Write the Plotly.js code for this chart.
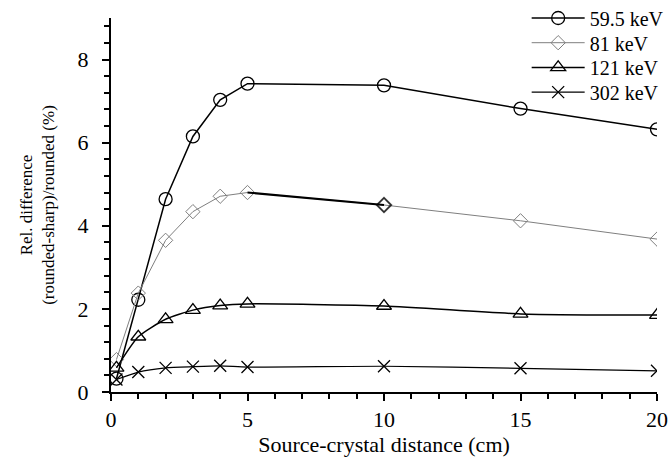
<!DOCTYPE html>
<html>
<head>
<meta charset="utf-8">
<script src="https://cdn.plot.ly/plotly-3.0.1.min.js"></script>
<style>html,body{margin:0;padding:0;background:#fff;}#chart{width:670px;height:469px;}</style>
</head>
<body>
<div id="chart"></div>
<script>
// Data
var distances = [0.2, 1, 2, 3, 4, 5, 10, 15, 20];
var seriesNames = ["59.5 keV", "81 keV", "121 keV", "302 keV"];
var kev59 = [0.32, 2.22, 4.64, 6.15, 7.03, 7.42, 7.38, 6.82, 6.32];
var kev81 = [0.78, 2.38, 3.65, 4.34, 4.71, 4.80, 4.50, 4.12, 3.68];
var kev121 = [0.58, 1.33, 1.75, 1.97, 2.08, 2.12, 2.07, 1.88, 1.85];
var kev302 = [0.30, 0.48, 0.58, 0.61, 0.63, 0.60, 0.62, 0.57, 0.51];
var xTickVals = [0, 5, 10, 15, 20];
var yTickVals = [0, 2, 4, 6, 8];

var serif = "Liberation Serif";

var traces = [
  {x: distances, y: kev59, name: seriesNames[0], mode: "lines+markers",
   line: {color: "#000", width: 1.5},
   marker: {symbol: "circle-open", size: 13, color: "#000", line: {width: 1.3}}},
  {x: distances, y: kev81, name: seriesNames[1], mode: "lines+markers",
   line: {color: "#7f7f7f", width: 1},
   marker: {symbol: "diamond-open", size: 11, color: "#7f7f7f", line: {width: 1}}},
  {x: distances, y: kev121, name: seriesNames[2], mode: "lines+markers",
   line: {color: "#000", width: 1.5, shape: "spline", smoothing: 0.6},
   marker: {symbol: "triangle-up-open", size: 13, color: "#000", line: {width: 1.3}}},
  {x: distances, y: kev302, name: seriesNames[3], mode: "lines+markers",
   line: {color: "#000", width: 1.2, shape: "spline", smoothing: 0.6},
   marker: {symbol: "x-thin-open", size: 12, color: "#000", line: {width: 1.3}}},
  // dark overlay segment of the 81 keV series between 5 and 10 cm (as in the reference)
  {x: distances.slice(5, 7), y: kev81.slice(5, 7), mode: "lines+markers", showlegend: false,
   line: {color: "#000", width: 2},
   marker: {symbol: "diamond-open", size: [0, 11], color: "#000", line: {width: 2}}}
];

var layout = {
  width: 670, height: 469,
  margin: {l: 111, r: 13, t: 18, b: 77, autoexpand: false},
  paper_bgcolor: "#fff", plot_bgcolor: "#fff",
  font: {family: serif, size: 20, color: "#000"},
  showlegend: true,
  legend: {x: 0.7613, y: 1.04, xanchor: "left", yanchor: "top",
           bgcolor: "rgba(0,0,0,0)", borderwidth: 0,
           font: {family: serif, size: 20, color: "#000"},
           tracegroupgap: 0, itemwidth: 53},
  xaxis: {range: [0, 20], tickvals: xTickVals, ticks: "outside", ticklen: 7, tickwidth: 2,
          tickcolor: "#000", showline: true, linecolor: "#000", linewidth: 2, showgrid: false, zeroline: false,
          minor: {dtick: 1, ticks: "outside", ticklen: 5, tickwidth: 2, tickcolor: "#000", showgrid: false},
          tickfont: {family: serif, size: 22},
          title: {text: "Source-crystal distance (cm)", font: {family: serif, size: 22}, standoff: 0}},
  yaxis: {range: [0, 9], tickvals: yTickVals, ticks: "outside", ticklen: 7, tickwidth: 2,
          tickcolor: "#000", showline: true, linecolor: "#000", linewidth: 2, showgrid: false, zeroline: false,
          ticklabelstandoff: 9,
          minor: {dtick: 0.4, ticks: "outside", ticklen: 5, tickwidth: 2, tickcolor: "#000", showgrid: false},
          tickfont: {family: serif, size: 22},
          title: {text: "Rel. difference<br>(rounded-sharp)/rounded (%)", font: {family: serif, size: 17}, standoff: 19}}
};

Plotly.newPlot("chart", traces, layout, {staticPlot: true, displayModeBar: false}).then(function (gd) {
  // tighten legend row spacing and place the first row as in the reference
  var rows = Array.prototype.slice.call(gd.querySelectorAll(".legend .traces"));
  var pos = rows.map(function (g) {
    var m = /translate\(\s*([-\d.]+)[ ,]+([-\d.]+)\s*\)/.exec(g.getAttribute("transform") || "");
    return m ? [parseFloat(m[1]), parseFloat(m[2])] : null;
  });
  if (!rows.length || !pos[0]) return;
  var line0 = rows[0].querySelector(".legendlines path") || rows[0];
  var r = line0.getBoundingClientRect();
  var delta = 18 - (r.top + r.bottom) / 2;
  rows.forEach(function (g, i) {
    if (!pos[i]) return;
    g.setAttribute("transform", "translate(" + pos[i][0] + "," + (pos[0][1] + delta + i * 24.7) + ")");
  });
});
</script>
</body>
</html>
